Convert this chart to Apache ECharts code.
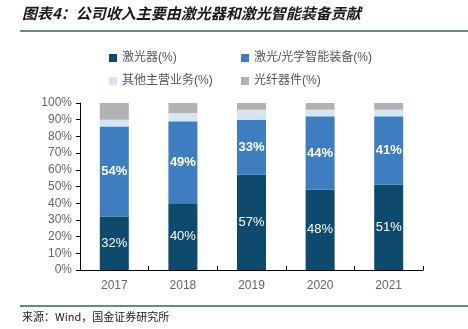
<!DOCTYPE html>
<html>
<head>
<meta charset="utf-8">
<script src="https://cdn.jsdelivr.net/npm/echarts@6/dist/echarts.min.js"></script>
<style>
  html, body { margin: 0; padding: 0; background: #fff; }
  #chart { width: 468px; height: 329px; }
</style>
</head>
<body>
<div id="chart"></div>
<script>
// Revenue mix by business line, share of total (%)
const years = ['2017', '2018', '2019', '2020', '2021'];
const laser = [32, 40, 57, 48, 51];          // 激光器
const smartEquip = [54, 49, 33, 44, 41];     // 激光/光学智能装备
const otherBiz = [4, 5, 6, 4, 4];            // 其他主营业务
const fiberParts = [10, 6, 4, 4, 4];         // 光纤器件
const yTicks = [0, 10, 20, 30, 40, 50, 60, 70, 80, 90, 100];

const FONT = '"Liberation Sans", "Noto Sans CJK SC", sans-serif';
const CJK = '"Noto Sans CJK SC", sans-serif';

const chart = echarts.init(document.getElementById('chart'));

function seg(name, data, color, label) {
  return {
    name: name,
    type: 'bar',
    stack: 'total',
    barWidth: 29,
    data: data,
    itemStyle: { color: color },
    label: label ? Object.assign({
      show: true,
      position: 'inside',
      color: '#fff',
      fontSize: 13,
      fontFamily: FONT,
      formatter: p => p.value + '%'
    }, label) : { show: false }
  };
}

function legendAt(name, left, top) {
  return {
    data: [name],
    left: left, top: top,
    itemWidth: 8, itemHeight: 8, icon: 'rect', itemGap: 4,
    textStyle: { color: '#555', fontSize: 12, fontFamily: FONT }
  };
}

chart.setOption({
  animation: false,
  graphic: [
    {
      type: 'text', left: 22, top: 6,
      style: {
        text: '图表4：公司收入主要由激光器和激光智能装备贡献',
        font: 'italic bold 15px ' + CJK,
        fill: '#1a1a1a'
      }
    },
    { type: 'line', shape: { x1: 20, y1: 31, x2: 468, y2: 31 }, style: { stroke: '#2f5f85', lineWidth: 1.5 } },
    { type: 'line', shape: { x1: 20, y1: 306, x2: 468, y2: 306 }, style: { stroke: '#2f5f85', lineWidth: 1.5 } },
    {
      type: 'text', left: 22, top: 311,
      style: {
        text: '来源：Wind，国金证券研究所',
        font: '11px ' + CJK,
        fill: '#222'
      }
    }
  ],
  legend: [
    legendAt('激光器(%)', 104, 47),
    legendAt('激光/光学智能装备(%)', 236, 47),
    legendAt('其他主营业务(%)', 104, 70),
    legendAt('光纤器件(%)', 236, 70)
  ],
  grid: { left: 80, right: 45, top: 103, bottom: 59 },
  xAxis: {
    type: 'category',
    data: years,
    axisLine: { lineStyle: { color: '#000', width: 1 } },
    axisTick: { show: true, alignWithLabel: false, length: 4, inside: true, lineStyle: { color: '#000' } },
    axisLabel: { color: '#666', fontSize: 12, fontFamily: FONT, margin: 10 }
  },
  yAxis: {
    type: 'value',
    min: 0, max: 100, interval: 10,
    axisLine: { show: true, lineStyle: { color: '#000', width: 1 } },
    axisTick: { show: true, length: 4, lineStyle: { color: '#000' } },
    splitLine: { show: false },
    axisLabel: {
      color: '#666', fontSize: 12, fontFamily: FONT, margin: 8,
      formatter: v => yTicks.includes(v) ? v + '%' : ''
    }
  },
  series: [
    seg('激光器(%)', laser, '#0d4a6e', { fontWeight: 'normal' }),
    seg('激光/光学智能装备(%)', smartEquip, '#3e7ec0', { fontWeight: 'bold' }),
    seg('其他主营业务(%)', otherBiz, '#d5e5f4', null),
    seg('光纤器件(%)', fiberParts, '#b2b2b2', null)
  ]
});
</script>
</body>
</html>
